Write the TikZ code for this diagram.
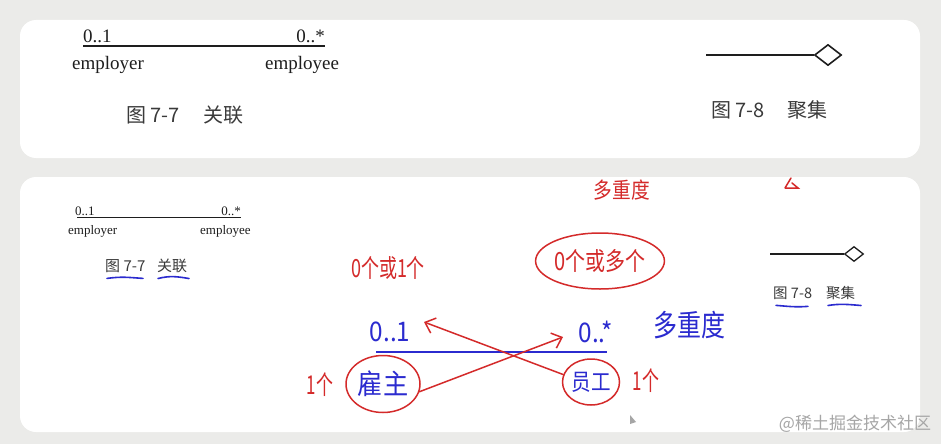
\documentclass[tikz,border=0pt]{standalone}
\usepackage{graphicx}
\usepackage{fontspec}
\setmainfont{Liberation Serif}
\newfontfamily\cjk{Noto Sans CJK SC}
\usetikzlibrary{shapes.geometric,arrows.meta}
\newcommand\hxs[2]{\scalebox{#1}[1]{#2}}
\definecolor{bg}{HTML}{EBEBE9}
\definecolor{hred}{HTML}{D42A2A}
\definecolor{hblue}{HTML}{2B2BCF}
\definecolor{ink}{HTML}{1E1E1E}
\definecolor{capc}{HTML}{3A3A3A}
\begin{document}
\begin{tikzpicture}[x=1pt,y=-1pt,
  panel/.style={fill=white, rounded corners=16pt},
  prt/.style={inner sep=0pt, text=ink},
  capt/.style={inner sep=0pt, text=capc, font=\cjk\fontsize{#1}{#1}\selectfont},
  pline/.style={draw=ink, line width=1.3pt},
  agg/.style={diamond, draw=ink, line width=1.6pt, fill=white, inner sep=0pt, aspect=1.3},
  hr/.style={inner sep=0pt, text=hred, font=\cjk\fontsize{#1}{#1}\selectfont},
  hb/.style={inner sep=0pt, text=hblue, font=\cjk\fontsize{#1}{#1}\selectfont},
  ul/.style={draw=hblue, line width=1.6pt, line cap=round},
  rstroke/.style={draw=hred, line width=1.5pt, line cap=round},
  rarrow/.style={rstroke, -{Straight Barb[length=9pt, width=16pt, line width=1.5pt]}},
  ring/.style={ellipse, draw=hred, line width=1.5pt, inner sep=0pt}
]
\fill[bg] (0,0) rectangle (941,444);
\useasboundingbox (0,0) rectangle (941,444);
\fill[panel] (20,20) rectangle (920,158);
\fill[panel] (20,177) rectangle (920,432);

% ---------- panel 1 ----------
\node[prt, font=\fontsize{19}{19}\selectfont, anchor=base west] (a1) at (83,43) {0..1};
\node[prt, font=\fontsize{19}{19}\selectfont, anchor=base east] (b1) at (325,43) {0..*};
\coordinate (la1) at (83,46);
\coordinate (lb1) at (325,46);
\draw[pline] (la1) -- (lb1);
\node[prt, font=\fontsize{19}{19}\selectfont, anchor=base west] (er1) at (72,69) {employer};
\node[prt, font=\fontsize{19}{19}\selectfont, anchor=base west] (ee1) at (265,69) {employee};
\node[capt=20, anchor=base west] (c71) at (126,122) {图 7-7};
\node[capt=20, anchor=base west] (g71) at (203,122) {关联};

\node[agg, minimum width=27pt, minimum height=21pt] (d1) at (828,55) {};
\coordinate (s1) at (706,55);
\draw[pline] (s1) -- (d1.west);
\node[capt=20, anchor=base west] (c81) at (711,117) {图 7-8};
\node[capt=20, anchor=base west] (g81) at (787,117) {聚集};

% ---------- panel 2 ----------
\node[prt, font=\fontsize{13}{13}\selectfont, anchor=base west] (a2) at (75,215) {0..1};
\node[prt, font=\fontsize{13}{13}\selectfont, anchor=base east] (b2) at (241,215) {0..*};
\coordinate (la2) at (77,217);
\coordinate (lb2) at (241,217);
\draw[pline, line width=1pt] (la2) -- (lb2);
\node[prt, font=\fontsize{13}{13}\selectfont, anchor=base west] (er2) at (68,234) {employer};
\node[prt, font=\fontsize{13}{13}\selectfont, anchor=base west] (ee2) at (200,234) {employee};
\node[capt=15, anchor=base west] (c72) at (105,271) {图 7-7};
\node[capt=15, anchor=base west] (g72) at (157,271) {关联};
\draw[ul] (c72.south west) ++(2,6) .. controls +(15,-2) and +(-15,-1) .. ++(36,0);
\draw[ul] (g72.south west) ++(1,6) .. controls +(12,-3) and +(-12,-2) .. ++(31,0);

\node[agg, minimum width=19pt, minimum height=15pt, line width=1.3pt] (d2) at (854,254) {};
\coordinate (s2) at (770,254);
\draw[pline, line width=1.1pt] (s2) -- (d2.west);
\node[capt=14.5, anchor=base west] (c82) at (773,298) {图 7-8};
\node[capt=14.5, anchor=base west] (g82) at (826,298) {聚集};
\draw[ul] (c82.south west) ++(3,6) .. controls +(12,1) and +(-12,1) .. ++(32,1);
\draw[ul] (g82.south west) ++(2,6) .. controls +(12,-2) and +(-12,-1) .. ++(33,0);

% ---------- handwriting ----------
\node[hr=25] (h01) at (388,268) {\hxs{0.72}{0个或1个}};
\node[hr=25, ring, minimum width=125pt, minimum height=56pt] (h0n) at (600,261) {\hxs{0.8}{0个或多个}};
\node[hr=22] (hdr) at (622,190) {\hxs{0.85}{多重度}};
\draw[rstroke] (785,188) -- (791,178) (785,188) -- (798,188) -- (792,183);

\node[hb=27] (m01) at (390,332) {\hxs{0.9}{0..1}};
\node[hb=27] (m0n) at (596,332) {\hxs{0.9}{0..*}};
\node[hb=30] (mdr) at (689,325) {\hxs{0.8}{多重度}};
\coordinate (bl) at (376,352);
\coordinate (br) at (607,352);
\draw[draw=hblue, line width=2pt] (bl) -- (br);

\node[hr=26] (one1) at (320,385) {\hxs{0.65}{1个}};
\node[hb=28, ring, minimum width=74pt, minimum height=57pt] (gz) at (383,384) {\hxs{0.9}{雇主}};
\node[hb=23, ring, minimum width=57pt, minimum height=46pt] (yg) at (591,382) {\hxs{0.85}{员工}};
\node[hr=26] (one2) at (646,381) {\hxs{0.65}{1个}};

\coordinate (t1) at (563,337);
\coordinate (t2) at (424,322);
\draw[rarrow] (gz.-12) -- (t1);
\draw[rarrow] (yg.165) -- (t2);

% cursor
\fill[gray!70] (630,415) -- (630,424) -- (636,422) -- cycle;

% watermark
\node[inner sep=0pt, text=black!35, font=\cjk\fontsize{17}{17}\selectfont] (wm) at (855,424) {@稀土掘金技术社区};
\end{tikzpicture}
\end{document}
